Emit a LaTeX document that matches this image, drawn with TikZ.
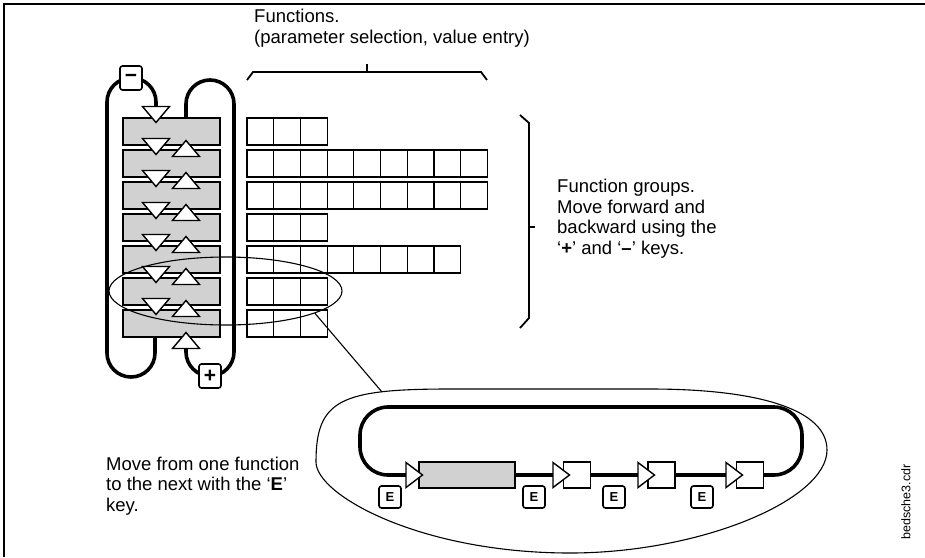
\documentclass[tikz,border=0pt]{standalone}
\usepackage{fontspec}
\setmainfont{Liberation Sans}
\usetikzlibrary{calc,shapes.geometric}
\def\dtri(#1,#2){\draw[tri] (#1-13.5,#2-16) -- (#1+13.5,#2-16) -- (#1,#2) -- cycle;}
\def\utri(#1,#2){\draw[tri] (#1-13.5,#2+16) -- (#1+13.5,#2+16) -- (#1,#2) -- cycle;}
\def\rtri(#1,#2){\draw[tri] (#1,#2-12.5) -- (#1+16.5,#2) -- (#1,#2+12.5) -- cycle;}
\tikzset{
  keyloop/.style={line width=3.6pt, rounded corners=24pt},
  tri/.style={fill=white, line width=1.4pt, line join=miter},
  bar/.style={draw, line width=1.4pt, fill=black!18, minimum width=97pt, minimum height=27pt, inner sep=0pt},
  fbox/.style={draw, line width=1.4pt, fill=white, minimum width=27pt, minimum height=26pt, inner sep=0pt},
  cell/.style={line width=1.2pt},
  fine/.style={line width=1.1pt},
  brace/.style={line width=1.8pt},
  btn/.style={draw, line width=1.6pt, rounded corners=2.5pt, fill=white, minimum size=22pt, inner sep=0pt, font=\bfseries\fontsize{13}{13}\selectfont},
  bigbtn/.style={btn, minimum height=24pt, font=\bfseries\fontsize{21}{21}\selectfont},
  note/.style={align=left, inner sep=0pt, font=\fontsize{18.5}{20.5}\selectfont}
}
\begin{document}
\begin{tikzpicture}[x=1pt,y=-1pt]
		%%%%% START %%%%%
		\useasboundingbox (0,0) rectangle (925,557);
		\draw[line width=1.4pt] (4,557) -- (4,4) -- (925,4);
		
		% function groups and their functions
		\foreach \i/\n in {1/3,2/9,3/9,4/3,5/8,6/3,7/3} {
			\pgfmathsetmacro{\t}{118+32*(\i-1)}
			\node[bar] (g\i) at (171.5,\t+13.5) {};
			\foreach \j in {1,...,\n}
				\draw[cell] ({247+26.7*(\j-1)},\t) rectangle ++(26.7,27);
		}
		
		% '-' and '+' loops
		\draw[keyloop] (155,337) -- (155,377) -- (107,377) -- (107,78) -- (156,78) -- (156,107);
		\draw[keyloop] (186,118) -- (186,80) -- (234,80) -- (234,376) -- (186,376) -- (186,348);
		\node[bigbtn] (minus) at (131,78) {−};
		\node[bigbtn] (plus) at (210,376) {+};
		
		\foreach \i in {1,...,7} {
			\pgfmathsetmacro{\a}{118+32*(\i-1)+4.5}
			\pgfmathsetmacro{\b}{118+32*(\i-1)+22.5}
			\dtri(156,\a)
			\utri(186,\b)
		}
		
		% braces
		\draw[brace] (247,80) -- (253,72) -- (481,72) -- (487,80);
		\draw[brace] (367,72) -- (367,64);
		\draw[brace] (520,115) -- (529,123) -- (529,318) -- (520,328);
		\draw[brace] (529,227) -- (535,227);
		
		% detail of one group
		\draw[fine] (316,462) .. controls (316,400) and (340,389) .. (450,389) -- (650,389)
			.. controls (760,389) and (827,410) .. (827,450)
			.. controls (827,500) and (700,553) .. (570,553)
			.. controls (420,553) and (316,495) .. (316,462) -- cycle;
		\coordinate (dtop) at (382,392);
		\node[draw, ellipse, fine, minimum width=233pt, minimum height=68pt, inner sep=0pt] (sel) at (225.5,291) {};
		\draw[fine] (sel.-14) -- (dtop);
		
		\draw[keyloop, rounded corners=28pt] (406,475) -- (360,475) -- (360,407) -- (802,407) -- (802,475) -- (763,475);
		\node[bar, minimum width=96pt, minimum height=26pt] (f1) at (467,475) {};
		\node[fbox] (f2) at (577,475) {};
		\node[fbox] (f3) at (661.5,475) {};
		\node[fbox] (f4) at (750,475) {};
		\draw[line width=3.6pt] (f1) -- (f2) (f2) -- (f3) (f3) -- (f4);
		\rtri(406,475)
		\rtri(553,475)
		\rtri(638,475)
		\rtri(726,475)
		\node[btn] (e1) at (390,497) {E};
		\node[btn] (e2) at (534,497) {E};
		\node[btn] (e3) at (614,497) {E};
		\node[btn] (e4) at (702,497) {E};
		
		% texts
		\node[note, anchor=west] (funclbl) at (254,28) {Functions.\\(parameter selection, value entry)};
		\node[note, anchor=west] (grplbl) at (557,218.5) {Function groups.\\Move forward and\\backward using the\\‘\textbf{+}’ and ‘\textbf{–}’ keys.};
		\node[note, anchor=west] (movelbl) at (106,486) {Move from one function\\to the next with the ‘\textbf{E}’\\key.};
		\node[rotate=90, inner sep=0pt, font=\fontsize{12.5}{12.5}\selectfont] (filelbl) at (906,502) {bedsche3.cdr};
		%%%%% END %%%%%
\end{tikzpicture}
\end{document}
